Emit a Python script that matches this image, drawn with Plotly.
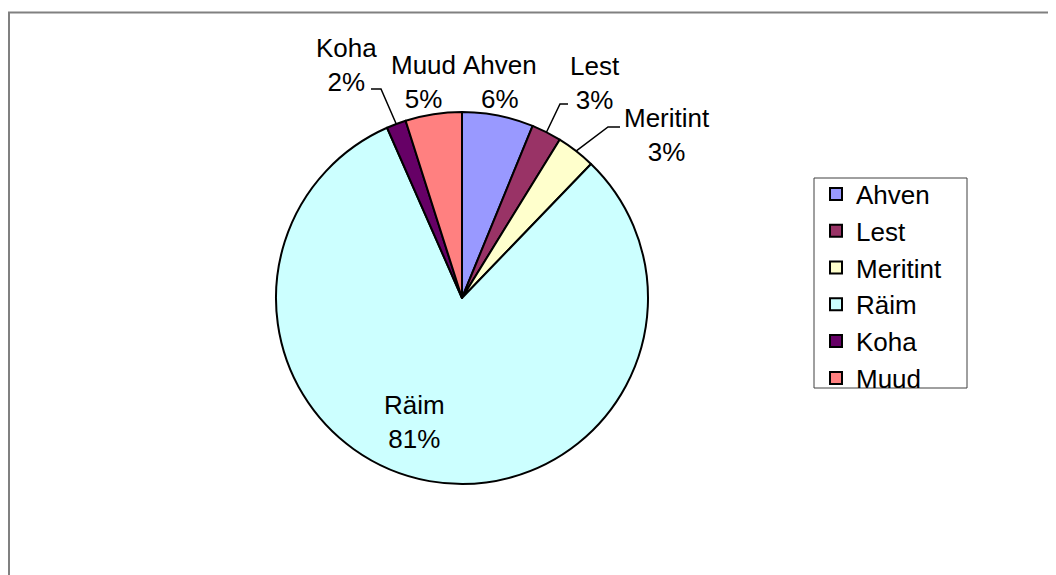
import math
import plotly.graph_objects as go

# ---- data ----
labels = ["Ahven", "Lest", "Meritint", "Räim", "Koha", "Muud"]
values = [6.2, 2.6, 3.4, 81.2, 1.7, 4.9]
colors = ["#9999FF", "#993366", "#FFFFCC", "#CCFFFF", "#660066", "#FF8080"]

OFF = 8            # default page body margin
W, H = 1048, 567   # figure size so the page fits the window
CX, CY, R = 462, 298, 186  # pie centre / radius in page pixels

def X(px):
    return (px - OFF) / W

def Y(py):
    return 1 - (py - OFF) / H

FONT = "Arial, Liberation Sans, sans-serif"
FS = 26

fig = go.Figure(go.Pie(
    labels=labels, values=values, sort=False, direction="clockwise", rotation=0,
    marker=dict(colors=colors, line=dict(color="black", width=2)),
    textinfo="none", hoverinfo="label+percent",
    domain=dict(x=[X(CX - R), X(CX + R)], y=[Y(CY + R), Y(CY - R)]),
))

total = sum(values)
pcts = [v / total * 100 for v in values]

# label centres (page pixels) and leader-line elbows
label_pos = {
    "Ahven": (500, 82),
    "Lest": (595, 83),
    "Meritint": (667, 135),
    "Räim": (414, 422),
    "Koha": (346, 65),
    "Muud": (423, 82),
}
leaders = {
    "Koha": [(371, 89), (381, 89)],
    "Lest": [(568, 104), (560, 104)],
    "Meritint": [(620, 127), (608, 127)],
}

annotations = []
shapes = []
cum = 0.0
for lab, p in zip(labels, pcts):
    mid = (cum + p / 2) / 100 * 2 * math.pi
    cum += p
    lx, ly = label_pos[lab]
    annotations.append(dict(
        x=X(lx), y=Y(ly), xref="paper", yref="paper",
        text=f"{lab}<br>{round(p)}%", showarrow=False,
        font=dict(family=FONT, size=FS, color="black"),
        xanchor="center", yanchor="middle", align="center",
    ))
    if lab in leaders:
        ex, ey = CX + R * math.sin(mid), CY - R * math.cos(mid)
        pts = leaders[lab] + [(ex, ey)]
        path = "M " + " L ".join(f"{X(a)},{Y(b)}" for a, b in pts)
        shapes.append(dict(type="path", xref="paper", yref="paper", path=path,
                           line=dict(color="black", width=1.5)))

# chart area border
shapes.append(dict(type="rect", xref="paper", yref="paper",
                   x0=X(9), x1=X(1080), y0=Y(620), y1=Y(12.5),
                   line=dict(color="#808080", width=2), layer="below"))
# legend box
shapes.append(dict(type="rect", xref="paper", yref="paper",
                   x0=X(814), x1=X(967), y0=Y(388), y1=Y(178),
                   line=dict(color="#404040", width=1), fillcolor="white",
                   layer="below"))

fig.update_layout(
    width=W, height=H,
    margin=dict(l=0, r=0, t=0, b=0),
    paper_bgcolor="white", plot_bgcolor="white",
    showlegend=True,
    legend=dict(
        x=X(816), y=Y(170.5), xanchor="left", yanchor="top",
        font=dict(family=FONT, size=FS, color="black"),
        borderwidth=0, bgcolor="rgba(0,0,0,0)",
        itemclick=False,
    ),
    annotations=annotations,
    shapes=shapes,
)

fig.write_html("out.html")
